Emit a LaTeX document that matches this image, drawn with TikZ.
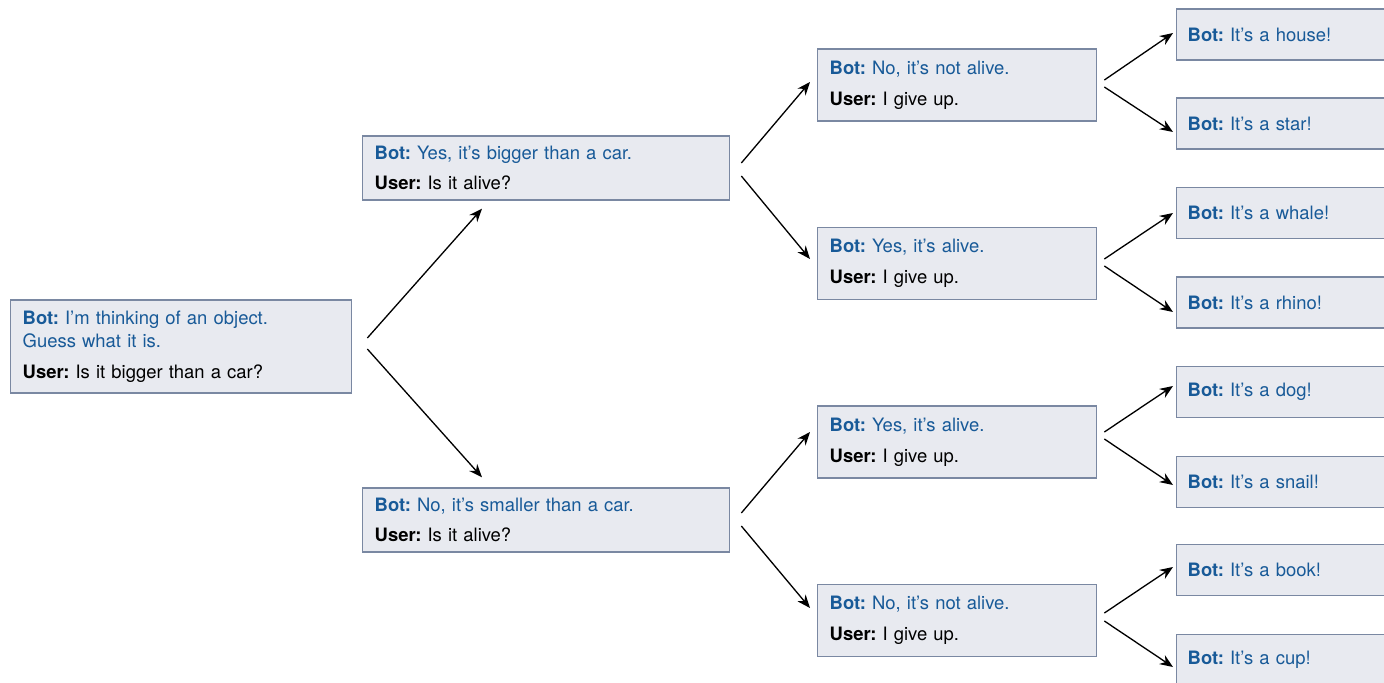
\documentclass[tikz,border=0pt]{standalone}
\usepackage{fontspec}
\setmainfont{TeX Gyre Heros}
\usetikzlibrary{arrows.meta}
\definecolor{botblue}{RGB}{24,90,152}
\definecolor{boxfill}{RGB}{232,234,240}
\definecolor{boxline}{RGB}{122,136,162}
\newcommand{\bottxt}[1]{\textcolor{botblue}{\textbf{Bot:} #1}}
\newcommand{\usertxt}[1]{\textbf{User:} #1}
\frenchspacing

\begin{document}
\begin{tikzpicture}[x=0.02cm,y=-0.02cm,
  box/.style={draw=boxline,fill=boxfill,line width=0.8pt,anchor=west,align=left,
    inner xsep=0.24cm,inner ysep=2pt,font=\fontsize{10.5}{13.2}\selectfont},
  rootbox/.style={box,text width=6.34cm,minimum height=1.86cm},
  askbox/.style={box,text width=6.86cm,minimum height=1.28cm},
  givebox/.style={box,text width=5.10cm,minimum height=1.44cm},
  leaf/.style={box,inner xsep=0.22cm,text width=4.2cm,minimum height=1.02cm},
  arr/.style={-{Stealth[length=7.5pt,width=6pt]},line width=0.75pt}]
\path[use as bounding box,clip] (0,0) rectangle (1384,683);

% question boxes
\node[rootbox] (start) at (10,346.5) {\bottxt{I’m thinking of an object.\\Guess what it is.}\\[4.2pt]\usertxt{Is it bigger than a car?}};
\node[askbox] (big) at (362,168) {\bottxt{Yes, it’s bigger than a car.}\\[4.2pt]\usertxt{Is it alive?}};
\node[askbox] (small) at (362,520) {\bottxt{No, it’s smaller than a car.}\\[4.2pt]\usertxt{Is it alive?}};
\node[givebox] (bigno) at (817,85) {\bottxt{No, it’s not alive.}\\[4.2pt]\usertxt{I give up.}};
\node[givebox] (bigyes) at (817,263.5) {\bottxt{Yes, it’s alive.}\\[4.2pt]\usertxt{I give up.}};
\node[givebox] (smallyes) at (817,442) {\bottxt{Yes, it’s alive.}\\[4.2pt]\usertxt{I give up.}};
\node[givebox] (smallno) at (817,620.5) {\bottxt{No, it’s not alive.}\\[4.2pt]\usertxt{I give up.}};

% guesses
\node[leaf] (house) at (1176,34.5) {\bottxt{It’s a house!}};
\node[leaf] (star) at (1176,123.5) {\bottxt{It’s a star!}};
\node[leaf] (whale) at (1176,213) {\bottxt{It’s a whale!}};
\node[leaf] (rhino) at (1176,302.5) {\bottxt{It’s a rhino!}};
\node[leaf] (dog) at (1176,392) {\bottxt{It’s a dog!}};
\node[leaf] (snail) at (1176,482) {\bottxt{It’s a snail!}};
\node[leaf] (book) at (1176,570) {\bottxt{It’s a book!}};
\node[leaf] (cup) at (1176,660) {\bottxt{It’s a cup!}};

\path[arr] ([shift={(15,-8.5)}]start.east) edge ([shift={(120,8)}]big.south west)
  ([shift={(15,2.5)}]start.east) edge ([shift={(120,-10)}]small.north west)
  ([shift={(11,-5)}]big.east) edge ([shift={(-7,-3)}]bigno.west)
  ([shift={(11,8)}]big.east) edge ([shift={(-7,-4.5)}]bigyes.west)
  ([shift={(11,-7)}]small.east) edge ([shift={(-7,-10)}]smallyes.west)
  ([shift={(11,6)}]small.east) edge ([shift={(-7,-12.5)}]smallno.west);
\path[arr] ([shift={(7,-5)}]bigno.east) edge ([shift={(-3,-1.5)}]house.west)
  ([shift={(7,2)}]bigno.east) edge ([shift={(-3,8.5)}]star.west)
  ([shift={(7,-4.5)}]bigyes.east) edge ([shift={(-3,0)}]whale.west)
  ([shift={(7,2.5)}]bigyes.east) edge ([shift={(-3,9.5)}]rhino.west)
  ([shift={(7,-10)}]smallyes.east) edge ([shift={(-3,-6)}]dog.west)
  ([shift={(7,-3)}]smallyes.east) edge ([shift={(-3,3)}]snail.west)
  ([shift={(7,-7.5)}]smallno.east) edge ([shift={(-3,-3)}]book.west)
  ([shift={(7,0.5)}]smallno.east) edge ([shift={(-3,7)}]cup.west);
\end{tikzpicture}
\end{document}
